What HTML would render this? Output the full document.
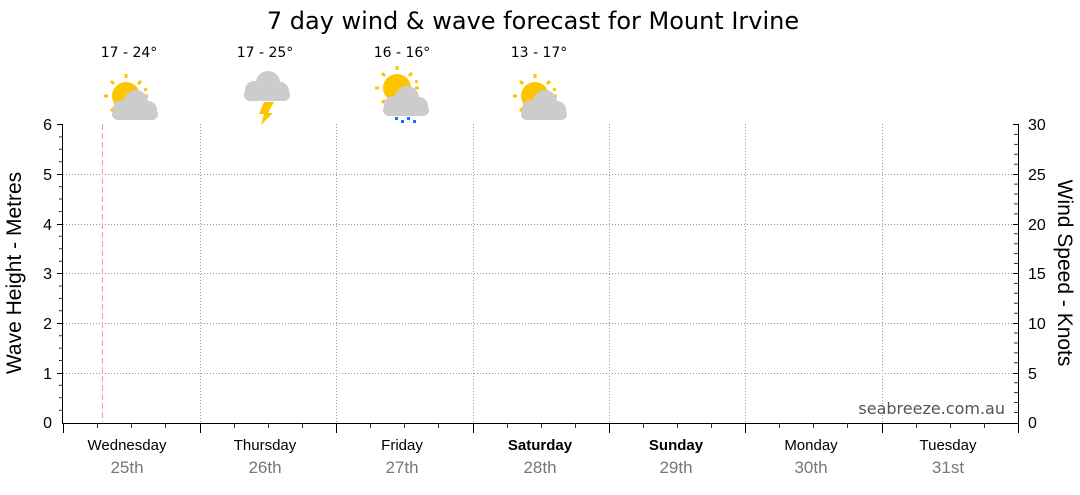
<!DOCTYPE html>
<html><head><meta charset="utf-8"><style>
body{margin:0;background:#fff;}
</style></head><body>
<svg width="1080" height="490" xmlns="http://www.w3.org/2000/svg" font-family="Liberation Sans, DejaVu Sans, sans-serif">
<text x="533" y="29" font-size="24" text-anchor="middle" fill="#000" style="font-family:'DejaVu Sans',sans-serif">7 day wind &amp; wave forecast for Mount Irvine</text>
<g font-size="14" text-anchor="middle" fill="#000" style="font-family:'DejaVu Sans',sans-serif">
<text x="129" y="57">17 - 24°</text>
<text x="265" y="57">17 - 25°</text>
<text x="402" y="57">16 - 16°</text>
<text x="539" y="57">13 - 17°</text>
</g>
<defs>
<g id="sun"><circle r="14" fill="#fdc500"/>
<g stroke="#fdc500" stroke-width="3"><line x1="0" y1="-18" x2="0" y2="-22"/><line x1="12" y1="-12" x2="15" y2="-15"/><line x1="-12" y1="-12" x2="-15" y2="-15"/><line x1="-18" y1="0" x2="-22" y2="0"/><line x1="18" y1="0" x2="22" y2="0"/><line x1="-12" y1="12" x2="-15" y2="15"/><line x1="18" y1="-6" x2="21" y2="-7"/></g></g>
<g id="cloud" fill="#cccccc"><circle cx="2" cy="-2" r="12"/><circle cx="-12" cy="5" r="9"/><circle cx="14" cy="6" r="9"/><rect x="-22" y="4" width="46" height="12" rx="6"/></g>
</defs>
<use href="#sun" x="126" y="96"/><use href="#cloud" x="134" y="104"/>
<use href="#cloud" x="266" y="85"/><polygon points="264,102 274,102 268,113 273,113 261,125 264,114 259,114" fill="#fdc500"/>
<use href="#sun" x="397" y="88"/><use href="#cloud" x="405" y="100"/>
<g fill="#1a6cff"><rect x="395" y="117" width="3" height="3"/><rect x="401" y="120" width="3" height="3"/><rect x="407" y="117" width="3" height="3"/><rect x="413" y="120" width="3" height="3"/></g>
<use href="#sun" x="535" y="96"/><use href="#cloud" x="543" y="104"/>
<g stroke="#999" stroke-dasharray="1,2" stroke-width="1">
<line x1="63" y1="174.5" x2="1018" y2="174.5"/><line x1="63" y1="224.5" x2="1018" y2="224.5"/><line x1="63" y1="273.5" x2="1018" y2="273.5"/><line x1="63" y1="323.5" x2="1018" y2="323.5"/><line x1="63" y1="373.5" x2="1018" y2="373.5"/>
<line x1="200.5" y1="124" x2="200.5" y2="422"/><line x1="336.5" y1="124" x2="336.5" y2="422"/><line x1="473.5" y1="124" x2="473.5" y2="422"/><line x1="609.5" y1="124" x2="609.5" y2="422"/><line x1="745.5" y1="124" x2="745.5" y2="422"/><line x1="882.5" y1="124" x2="882.5" y2="422"/>
</g>
<line x1="102.5" y1="124" x2="102.5" y2="422" stroke="#ff9999" stroke-dasharray="6,3"/>
<g stroke="#000" stroke-width="1">
<line x1="62.5" y1="124" x2="62.5" y2="423"/>
<line x1="1018.5" y1="124" x2="1018.5" y2="423"/>
<line x1="62" y1="423.5" x2="1019" y2="423.5"/>
<line x1="57" y1="124.5" x2="63" y2="124.5"/><line x1="57" y1="174.5" x2="63" y2="174.5"/><line x1="57" y1="224.5" x2="63" y2="224.5"/><line x1="57" y1="273.5" x2="63" y2="273.5"/><line x1="57" y1="323.5" x2="63" y2="323.5"/><line x1="57" y1="373.5" x2="63" y2="373.5"/>
<line x1="1013" y1="124.5" x2="1019" y2="124.5"/><line x1="1013" y1="174.5" x2="1019" y2="174.5"/><line x1="1013" y1="224.5" x2="1019" y2="224.5"/><line x1="1013" y1="273.5" x2="1019" y2="273.5"/><line x1="1013" y1="323.5" x2="1019" y2="323.5"/><line x1="1013" y1="373.5" x2="1019" y2="373.5"/>
<line x1="63.5" y1="423" x2="63.5" y2="433"/><line x1="200.5" y1="423" x2="200.5" y2="433"/><line x1="336.5" y1="423" x2="336.5" y2="433"/><line x1="473.5" y1="423" x2="473.5" y2="433"/><line x1="609.5" y1="423" x2="609.5" y2="433"/><line x1="745.5" y1="423" x2="745.5" y2="433"/><line x1="882.5" y1="423" x2="882.5" y2="433"/><line x1="1018.5" y1="423" x2="1018.5" y2="433"/>
</g>
<path stroke="#333" fill="none" d="M59 136.9H63M59 149.3H63M59 161.8H63M59 186.6H63M59 199H63M59 211.5H63M59 236.3H63M59 248.7H63M59 261.2H63M59 286H63M59 298.4H63M59 310.8H63M59 335.7H63M59 348.1H63M59 360.5H63M59 385.4H63M59 397.8H63M59 410.2H63
M1014 134.4H1019M1014 144.4H1019M1014 154.3H1019M1014 164.2H1019M1014 184.1H1019M1014 194H1019M1014 203.9H1019M1014 213.9H1019M1014 233.7H1019M1014 243.7H1019M1014 253.6H1019M1014 263.5H1019M1014 283.4H1019M1014 293.3H1019M1014 303.2H1019M1014 313.2H1019M1014 333H1019M1014 343H1019M1014 352.9H1019M1014 362.8H1019M1014 382.7H1019M1014 392.6H1019M1014 402.5H1019M1014 412.5H1019
M97.5 423V428M131.5 423V428M165.5 423V428M234.5 423V428M268.5 423V428M302.5 423V428M370.5 423V428M404.5 423V428M438.5 423V428M507.5 423V428M541.5 423V428M575.5 423V428M643.5 423V428M677.5 423V428M711.5 423V428M779.5 423V428M813.5 423V428M847.5 423V428M916.5 423V428M950.5 423V428M984.5 423V428"/>
<g font-size="16" fill="#000" text-anchor="end">
<text x="52" y="130">6</text><text x="52" y="180">5</text><text x="52" y="230">4</text><text x="52" y="279">3</text><text x="52" y="329">2</text><text x="52" y="379">1</text><text x="52" y="428">0</text>
</g>
<g font-size="16" fill="#000" text-anchor="start">
<text x="1028" y="130">30</text><text x="1028" y="180">25</text><text x="1028" y="230">20</text><text x="1028" y="279">15</text><text x="1028" y="329">10</text><text x="1028" y="379">5</text><text x="1028" y="428">0</text>
</g>
<text transform="translate(21,273) rotate(-90)" font-size="21" text-anchor="middle">Wave Height - Metres</text>
<text transform="translate(1058,273) rotate(90)" font-size="21" text-anchor="middle">Wind Speed - Knots</text>
<text x="1005" y="414" font-size="16" fill="#555" text-anchor="end" style="font-family:'DejaVu Sans',sans-serif">seabreeze.com.au</text>
<g font-size="15" text-anchor="middle" fill="#000">
<text x="127" y="450">Wednesday</text><text x="265" y="450">Thursday</text><text x="402" y="450">Friday</text><text x="540" y="450" font-weight="bold">Saturday</text><text x="676" y="450" font-weight="bold">Sunday</text><text x="811" y="450">Monday</text><text x="948" y="450">Tuesday</text>
</g>
<g font-size="17" text-anchor="middle" fill="#777">
<text x="127" y="473">25th</text><text x="265" y="473">26th</text><text x="402" y="473">27th</text><text x="540" y="473">28th</text><text x="676" y="473">29th</text><text x="811" y="473">30th</text><text x="948" y="473">31st</text>
</g>
</svg>
</body></html>
